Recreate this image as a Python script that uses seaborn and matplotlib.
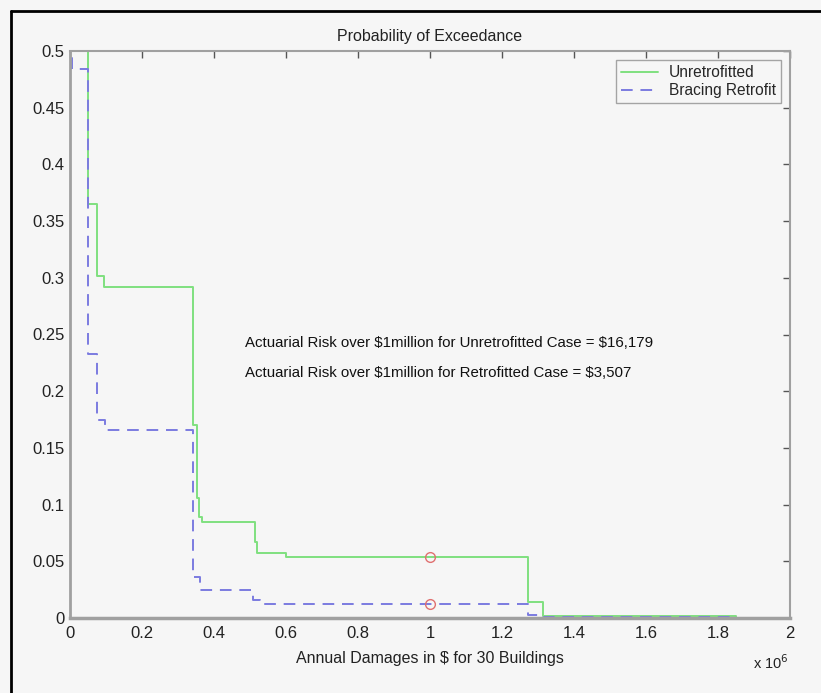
import matplotlib
matplotlib.use("Agg")
import matplotlib.pyplot as plt
from matplotlib.lines import Line2D
import seaborn as sns
import pandas as pd

# ---- data (damages in millions of $, probability of exceedance) ----
unretro_x = [0.051, 0.051, 0.075, 0.095, 0.342, 0.352, 0.359, 0.368, 0.514, 0.520, 0.600, 1.273, 1.315, 1.850, 2.000]
unretro_p = [0.600, 0.365, 0.302, 0.292, 0.170, 0.106, 0.089, 0.085, 0.067, 0.057, 0.054, 0.0144, 0.002, 0.000, 0.000]

retro_x = [0.005, 0.005, 0.051, 0.074, 0.097, 0.342, 0.361, 0.509, 0.528, 1.272, 1.315, 1.850]
retro_p = [0.600, 0.484, 0.233, 0.175, 0.166, 0.036, 0.025, 0.016, 0.0125, 0.003, 0.001, 0.001]

marker_x = [1.0, 1.0]
marker_p = [0.0535, 0.0123]

x_ticks = [0, 0.2, 0.4, 0.6, 0.8, 1, 1.2, 1.4, 1.6, 1.8, 2]
x_ticklabels = ["0", "0.2", "0.4", "0.6", "0.8", "1", "1.2", "1.4", "1.6", "1.8", "2"]
y_ticks = [0, 0.05, 0.1, 0.15, 0.2, 0.25, 0.3, 0.35, 0.4, 0.45, 0.5]
y_ticklabels = ["0", "0.05", "0.1", "0.15", "0.2", "0.25", "0.3", "0.35", "0.4", "0.45", "0.5"]

title = "Probability of Exceedance"
xlabel = "Annual Damages in \\$ for 30 Buildings"
note1 = "Actuarial Risk over \\$1million for Unretrofitted Case = \\$16,179"
note2 = "Actuarial Risk over \\$1million for Retrofitted Case = \\$3,507"

sns.set_theme(style="white")
plt.rcParams["font.family"] = ["Liberation Sans", "DejaVu Sans"]

bg = "#f6f6f6"
fig = plt.figure(figsize=(8.21, 6.93), dpi=100, facecolor=bg)
ax = fig.add_axes([70 / 821, 1 - 618 / 693, 720 / 821, 567 / 693])
ax.set_facecolor(bg)

df_u = pd.DataFrame({"x": unretro_x, "p": unretro_p})
df_r = pd.DataFrame({"x": retro_x, "p": retro_p})

sns.lineplot(data=df_u, x="x", y="p", sort=False, estimator=None, ax=ax,
             drawstyle="steps-post", color="#7fe07f", linewidth=1.4, label="Unretrofitted")
sns.lineplot(data=df_r, x="x", y="p", sort=False, estimator=None, ax=ax,
             drawstyle="steps-post", color="#7b7be0", linewidth=1.4,
             dashes=False, linestyle=(0, (6, 4)), label="Bracing Retrofit")
ax.plot(marker_x, marker_p, linestyle="none", marker="o", markersize=7,
        markerfacecolor="none", markeredgecolor="#e07070", markeredgewidth=1.0)

ax.set_xlim(0, 2)
ax.set_ylim(0, 0.5)
ax.set_xticks(x_ticks)
ax.set_xticklabels(x_ticklabels)
ax.set_yticks(y_ticks)
ax.set_yticklabels(y_ticklabels)
ax.tick_params(direction="in", length=5, width=1, color="#555555",
               top=True, right=True, labelsize=12, labelcolor="#222222")
ax.tick_params(axis="y", pad=4)
ax.tick_params(axis="x", pad=6)
for s in ax.spines.values():
    s.set_color("#a0a0a0")
    s.set_linewidth(1.5)
ax.spines["bottom"].set_linewidth(2.5)
ax.spines["left"].set_linewidth(2.0)

ax.set_title(title, fontsize=11.5, pad=7, color="#222222")
ax.set_xlabel(xlabel, fontsize=11.5, labelpad=7, color="#222222")
ax.set_ylabel("")

ax.text(0.485, 0.2425, note1, fontsize=10.8, color="#111111", va="center", ha="left")
ax.text(0.485, 0.216, note2, fontsize=10.8, color="#111111", va="center", ha="left")

fig.text(753 / 821, 1 - 663 / 693, "x 10$^6$", fontsize=10.5, color="#222222",
         va="center", ha="left")

leg = ax.legend(loc="upper right", fontsize=11.2, frameon=True, fancybox=False,
                borderaxespad=0.6, handlelength=2.4, handletextpad=0.7,
                borderpad=0.3, labelspacing=0.2)
leg.get_frame().set_edgecolor("#909090")
leg.get_frame().set_facecolor(bg)
leg.get_frame().set_linewidth(1.0)

# outer black frame (top and left)
fig.add_artist(Line2D([11 / 821, 11 / 821], [0, 1 - 11 / 693], transform=fig.transFigure, color="black", linewidth=2))
fig.add_artist(Line2D([11 / 821, 1], [1 - 11 / 693, 1 - 11 / 693], transform=fig.transFigure, color="black", linewidth=2))

fig.savefig("out.png", dpi=100, facecolor=bg)
